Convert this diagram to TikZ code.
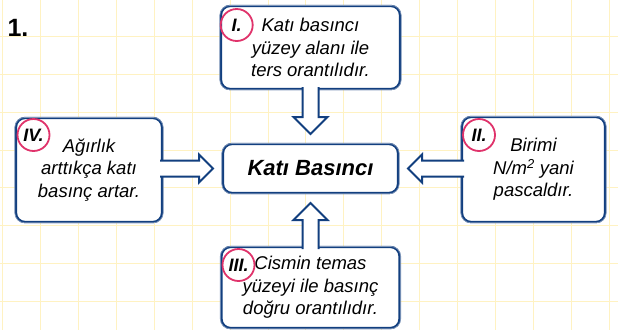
\documentclass[tikz,border=0pt]{standalone}
\usepackage{fontspec}
\setmainfont{Liberation Sans}
\usetikzlibrary{calc}
\definecolor{boxblue}{HTML}{123F7F}
\definecolor{markpink}{HTML}{E0336B}
\definecolor{gridyellow}{HTML}{FFF2C2}
\begin{document}
\begin{tikzpicture}[x=1pt,y=-1pt,
    infobox/.style={draw=boxblue,line width=2.3pt,rounded corners=9pt,fill=white,
      align=center,inner sep=0pt,outer sep=0pt,
      font=\itshape\fontsize{18.5}{22.5}\selectfont},
    sketch/.style={draw=boxblue!55,line width=0.7pt,rounded corners=10pt},
    numcirc/.style={draw=markpink,line width=1.8pt,circle,minimum size=32pt,inner sep=0pt,
      font=\bfseries\itshape\fontsize{18}{20}\selectfont},
    blockarrow/.style={draw=boxblue,fill=white,line width=2pt,line join=miter},
    gridline/.style={draw=gridyellow,line width=1pt}]
  \useasboundingbox (0,0) rectangle (618,330);
  \fill[white] (0,0) rectangle (618,330);
  % grid paper
  \foreach \gx in {0,...,16}
    \draw[gridline] ({2.7+37.9*\gx},0) -- ({2.7+37.9*\gx},330);
  \foreach \gy in {1,...,8}
    \draw[gridline] (0,{-1.6+37.9*\gy}) -- (618,{-1.6+37.9*\gy});

  \node[anchor=base west,font=\bfseries\fontsize{25}{25}\selectfont] (num) at (4,36) {1.};

  % boxes
  \node[infobox,minimum width=179pt,minimum height=83pt] (boxI) at (310.5,47.5)
    {Katı basıncı\\yüzey alanı ile\\ters orantılıdır.};
  \node[infobox,minimum width=175pt,minimum height=49pt,
    font=\bfseries\itshape\fontsize{22}{24}\selectfont] (kati) at (310.5,168.5) {Katı Basıncı};
  \node[infobox,minimum width=146pt,minimum height=104pt] (boxIV) at (89,170)
    {Ağırlık\\arttıkça katı\\basınç artar.};
  \node[infobox,minimum width=143pt,minimum height=105pt] (boxII) at (533.5,169.5)
    {Birimi\\N/m\textsuperscript{2} yani\\pascaldır.};
  \node[infobox,minimum width=178pt,minimum height=81pt] (boxIII) at (310.5,287.5)
    {Cismin temas\\yüzeyi ile basınç\\doğru orantılıdır.};
  \foreach \b in {boxI,kati,boxII,boxIII,boxIV}
    \draw[sketch] ($(\b.north west)+(-1.2,-0.6)$) rectangle ($(\b.south east)+(1.2,0.8)$);

  % arrows into the centre box
  \coordinate (tipI) at ($(kati.north)+(0,-10)$);
  \coordinate (tipIII) at ($(kati.south)+(0,10)$);
  \coordinate (tipIV) at ($(kati.west)+(-10,0)$);
  \coordinate (tipII) at ($(kati.east)+(10,0)$);
  \draw[blockarrow] ($(boxI.south)+(-8,-2)$) -- ($(tipI)+(-8,-17)$) -- ++(-9,0)
    -- (tipI) -- ++(17,-17) -- ++(-9,0) -- ($(boxI.south)+(8,-2)$);
  \draw[blockarrow] ($(boxIII.north)+(-8,2)$) -- ($(tipIII)+(-8,17)$) -- ++(-9,0)
    -- (tipIII) -- ++(17,17) -- ++(-9,0) -- ($(boxIII.north)+(8,2)$);
  \draw[blockarrow] ($(boxIV.east |- tipIV)+(-2,-8)$) -- ($(tipIV)+(-14,-8)$) -- ++(0,-6)
    -- (tipIV) -- ++(-14,14) -- ++(0,-6) -- ($(boxIV.east |- tipIV)+(-2,8)$);
  \draw[blockarrow] ($(boxII.west |- tipII)+(2,-8)$) -- ($(tipII)+(14,-8)$) -- ++(0,-6)
    -- (tipII) -- ++(14,14) -- ++(0,-6) -- ($(boxII.west |- tipII)+(2,8)$);

  % numbered marks
  \node[numcirc] (nI) at (236.7,25) {I.};
  \node[numcirc] (nIV) at (33.5,135) {IV.};
  \node[numcirc] (nII) at (479,135) {II.};
  \node[numcirc] (nIII) at (238.5,265) {III.};
\end{tikzpicture}
\end{document}
